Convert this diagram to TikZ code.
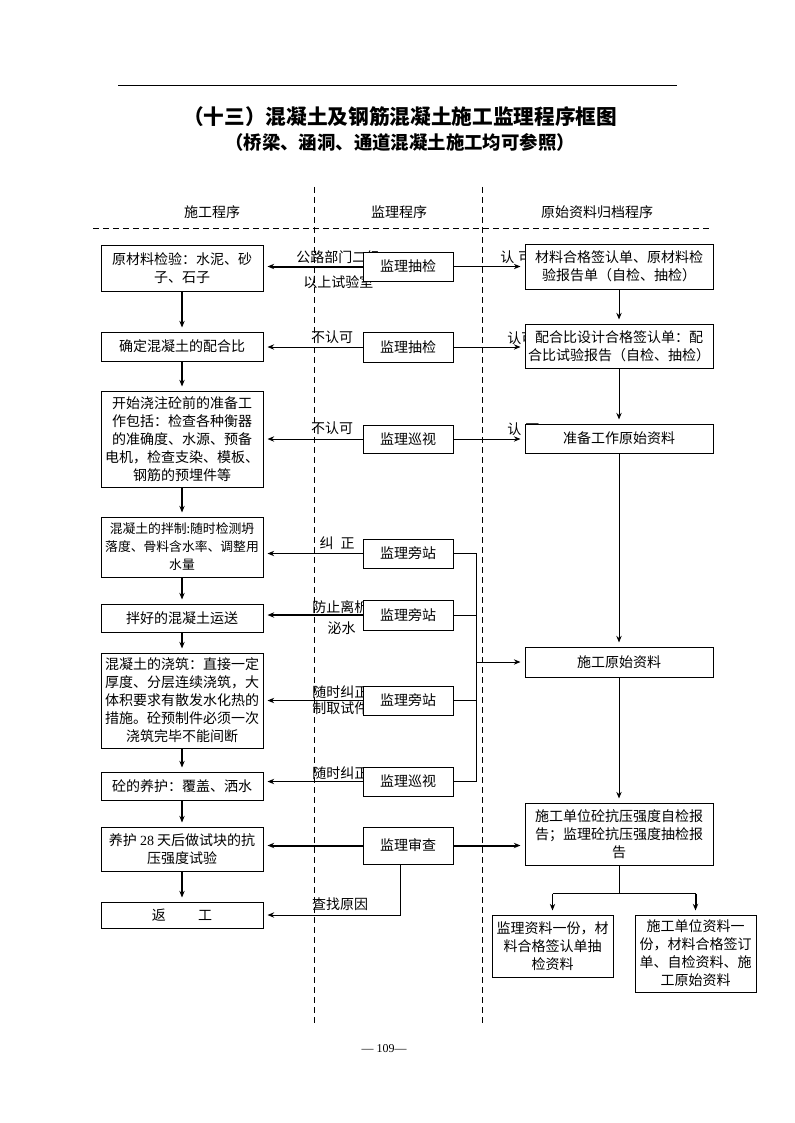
\documentclass[tikz,border=0pt]{standalone}
\usepackage{fontspec}
\setmainfont{Liberation Serif}
\newfontfamily\cjk{Noto Sans CJK SC}
\usetikzlibrary{arrows.meta}
\begin{document}
\begin{tikzpicture}[x=0.75pt,y=-0.75pt,
  every node/.style={font=\cjk\fontsize{10.5}{13.5}\selectfont, inner sep=0pt},
  box/.style={draw, line width=0.75pt, fill=white, align=center},
  bx/.style 2 args={box, minimum width=#1*0.75pt, minimum height=#2*0.75pt},
  thinln/.style={line width=0.75pt},
  heavy/.style={line width=1.5pt},
  arr/.style={-{Stealth[length=5pt,width=4pt]}, shorten >=3pt},
  sepline/.style={line width=0.75pt, dash pattern=on 4.5pt off 3pt},
  condensed/.style={font=\cjk\fontsize{9.6}{13.5}\selectfont}
]
\useasboundingbox (0,0) rectangle (794,1123);

% top rule and titles
\draw[line width=0.75pt] (118,86) -- (677,86);
\node (title) at (400,117) {\fontsize{15.5}{18}\selectfont\bfseries （十三）混凝土及钢筋混凝土施工监理程序框图};
\node (subtitle) at (400,142) {\fontsize{13.8}{16}\selectfont\bfseries （桥梁、涵洞、通道混凝土施工均可参照）};

% column separators
\draw[sepline] (314,187) -- (314,1023);
\draw[sepline] (482,187) -- (482,1023);
\draw[sepline] (93,229) -- (713,229);
\node (h1) at (212,212) {施工程序};
\node (h2) at (399,212) {监理程序};
\node (h3) at (597,212) {原始资料归档程序};

% connector labels (drawn first, boxes cover them partly)
\node[anchor=west] (t1) at (296,257) {公路部门二级};
\node[anchor=west] (t2) at (303,282) {以上试验室};
\node (t3) at (332,337) {不认可};
\node (t4) at (332,428) {不认可};
\node (t5) at (337,543) {纠\hspace{0.5em}正};
\node[anchor=west] (t6) at (312,607) {防止离析};
\node (t7) at (341.5,628) {泌水};
\node[anchor=west] (t8) at (312,692) {随时纠正};
\node[anchor=west] (t9) at (312,708) {制取试件};
\node[anchor=west] (t10) at (312,773) {随时纠正};
\node (t11) at (340,904) {查找原因};
\node[anchor=west] (t12) at (500,257) {认\hspace{0.3em}可};
\node[anchor=west] (t13) at (507,338) {认可};
\node[anchor=west] (t14) at (507,429) {认\hspace{0.3em}可};

% left column
\node[bx={162}{46}] (l1) at (182,268) {原材料检验：水泥、砂\\子、石子};
\node[bx={162}{29}] (l2) at (182,346.5) {确定混凝土的配合比};
\node[bx={162}{96}] (l3) at (182,439) {开始浇注砼前的准备工\\作包括：检查各种衡器\\的准确度、水源、预备\\电机，检查支染、模板、\\钢筋的预埋件等};
\node[bx={162}{60}, condensed] (l4) at (182,547) {混凝土的拌制:随时检测坍\\落度、骨料含水率、调整用\\水量};
\node[bx={162}{28}] (l5) at (182,618) {拌好的混凝土运送};
\node[bx={162}{95}] (l6) at (182,700.5) {混凝土的浇筑：直接一定\\厚度、分层连续浇筑，大\\体积要求有散发水化热的\\措施。砼预制件必须一次\\浇筑完毕不能间断};
\node[bx={162}{28}] (l7) at (182,786) {砼的养护：覆盖、洒水};
\node[bx={162}{44}] (l8) at (182,849) {养护 {\rmfamily 28} 天后做试块的抗\\压强度试验};
\node[bx={162}{26}] (l9) at (182,915) {返\hspace{2.3em}工};

% middle column
\node[bx={90}{29}] (m1) at (408,266.5) {监理抽检};
\node[bx={90}{30}] (m2) at (408,347) {监理抽检};
\node[bx={90}{28}] (m3) at (408,439) {监理巡视};
\node[bx={90}{29}] (m4) at (408,553.5) {监理旁站};
\node[bx={90}{30}] (m5) at (408,615) {监理旁站};
\node[bx={90}{29}] (m6) at (408,700.5) {监理旁站};
\node[bx={90}{29}] (m7) at (408,781.5) {监理巡视};
\node[bx={90}{37}] (m8) at (408,845.5) {监理审查};

% right column
\node[bx={188}{45}] (r1) at (619,266.5) {材料合格签认单、原材料检\\验报告单（自检、抽检）};
\node[bx={188}{44}] (r2) at (619,346) {配合比设计合格签认单：配\\合比试验报告（自检、抽检）};
\node[bx={188}{29}] (r3) at (619,438.5) {准备工作原始资料};
\node[bx={188}{30}] (r4) at (619,662) {施工原始资料};
\node[bx={188}{62}] (r5) at (619,834) {施工单位砼抗压强度自检报\\告；监理砼抗压强度抽检报\\告};
\node[bx={121}{62}] (b1) at (552.5,946) {监理资料一份，材\\料合格签认单抽\\检资料};
\node[bx={121}{77}] (b2) at (695.5,953.5) {施工单位资料一\\份，材料合格签订\\单、自检资料、施\\工原始资料};

% page number
\node[font=\rmfamily\fontsize{9}{10}\selectfont] (pg) at (384,1049) {— 109—};

% left column flow
\draw[heavy,arr] (l1.south) -- (l2.north);
\draw[heavy,arr] (l2.south) -- (l3.north);
\draw[heavy,arr] (l3.south) -- (l4.north);
\draw[heavy,arr] (l4.south) -- (l5.north);
\draw[heavy,arr] (l5.south) -- (l6.north);
\draw[heavy,arr] (l6.south) -- (l7.north);
\draw[heavy,arr] (l7.south) -- (l8.north);
\draw[heavy,arr] (l8.south) -- (l9.north);

% supervision to construction
\draw[heavy,arr] (m1.west) -- (m1.west -| l1.east);
\draw[thinln,arr] (m2.west) -- (m2.west -| l2.east);
\draw[thinln,arr] (m3.west) -- (m3.west -| l3.east);
\draw[thinln,arr] (m4.west) -- (m4.west -| l4.east);
\draw[heavy,arr] (m5.west) -- (m5.west -| l5.east);
\draw[thinln,arr] (m6.west) -- (m6.west -| l6.east);
\draw[thinln,arr] (m7.west) -- (m7.west -| l7.east);
\draw[heavy,arr] (m8.west) -- (m8.west -| l8.east);
\draw[thinln,arr] ([xshift=-6pt]m8.south) |- (l9.east);

% supervision to records
\draw[thinln,arr] (m1.east) -- (m1.east -| r1.west);
\draw[thinln,arr] (m2.east) -- (m2.east -| r2.west);
\draw[thinln,arr] (m3.east) -- (m3.east -| r3.west);
\draw[thinln] (m4.east) -- ++(23,0) coordinate (bt) |- (m7.east);
\draw[thinln] (m5.east) -- (m5.east -| bt);
\draw[thinln] (m6.east) -- (m6.east -| bt);
\draw[thinln,arr] (bt |- r4.west) -- (r4.west);
\draw[heavy,arr] (m8.east) -- (m8.east -| r5.west);

% records column flow
\draw[thinln,arr] (r1.south) -- (r2.north);
\draw[thinln,arr] (r2.south) -- (r3.north);
\draw[thinln,arr] (r3.south) -- (r4.north);
\draw[thinln,arr] (r4.south) -- (r5.north);
\draw[thinln] (r5.south) -- ++(0,28) coordinate (sp);
\draw[thinln] (b1.north |- sp) -- (b2.north |- sp);
\draw[thinln,arr] (b1.north |- sp) -- (b1.north);
\draw[heavy,arr] (b2.north |- sp) -- (b2.north);
\end{tikzpicture}
\end{document}
